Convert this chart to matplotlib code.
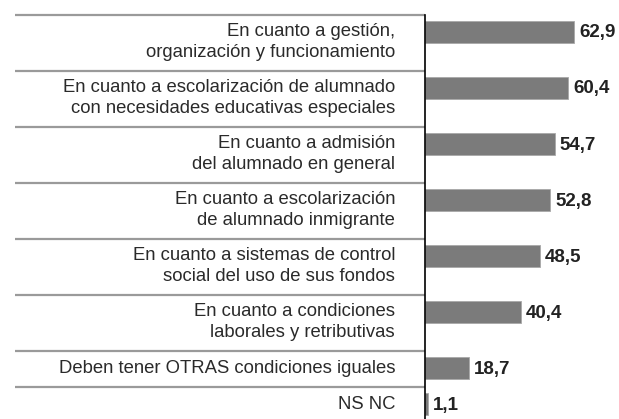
import matplotlib
matplotlib.use("Agg")
import matplotlib.pyplot as plt

# ------------------------------------------------------------------ #
#  Data
# ------------------------------------------------------------------ #
labels = [
    "En cuanto a gestión,\norganización y funcionamiento",
    "En cuanto a escolarización de alumnado\ncon necesidades educativas especiales",
    "En cuanto a admisión\ndel alumnado en general",
    "En cuanto a escolarización\nde alumnado inmigrante",
    "En cuanto a sistemas de control\nsocial del uso de sus fondos",
    "En cuanto a condiciones\nlaborales y retributivas",
    "Deben tener OTRAS condiciones iguales",
    "NS NC",
]
values = [62.9, 60.4, 54.7, 52.8, 48.5, 40.4, 18.7, 1.1]
value_text = ["62,9", "60,4", "54,7", "52,8", "48,5", "40,4", "18,7", "1,1"]

# ------------------------------------------------------------------ #
#  Layout (pixel units on y, value units on x)
# ------------------------------------------------------------------ #
W, H = 619, 419
AXIS_X = 425          # pixel of the zero line
PX_PER_UNIT = 2.37
TOP = 15
ROW_H = {1: 36, 2: 56}
BAR_H = 22

fig = plt.figure(figsize=(W / 100, H / 100), dpi=100)
ax = fig.add_axes([0, 0, 1, 1])
ax.set_xlim(-AXIS_X / PX_PER_UNIT, (W - AXIS_X) / PX_PER_UNIT)
ax.set_ylim(H, 0)
ax.axis("off")

font = "Liberation Sans"
px = 1 / PX_PER_UNIT
left_x = (15 - AXIS_X) * px
label_x = (395 - AXIS_X) * px

tops, centers, bar_y = [], [], []
y = TOP
for lab in labels:
    h = ROW_H[lab.count("\n") + 1]
    tops.append(y)
    centers.append(y + h / 2)
    bar_y.append(y + 17)
    y += h

ax.barh(bar_y, values, height=BAR_H, color="#7b7b7b",
        edgecolor="#a8a8a8", linewidth=0.6)

for t in tops:
    ax.plot([left_x, 0], [t, t], color="#9a9a9a", lw=1.6,
            solid_capstyle="butt")
ax.plot([0, 0], [TOP, H], color="black", lw=1.2)

for lab, c in zip(labels, centers):
    ax.text(label_x, c - 1, lab, ha="right", va="center", multialignment="right",
            fontsize=13.3, family=font, color="#2a2a2a", linespacing=1.25)

for v, txt, by in zip(values, value_text, bar_y):
    ax.text(v + 5 * px, by + 1, txt, ha="left", va="center",
            fontsize=13.5, fontweight="bold", family=font, color="#222222")

fig.savefig("out.png", dpi=100)
plt.close(fig)
